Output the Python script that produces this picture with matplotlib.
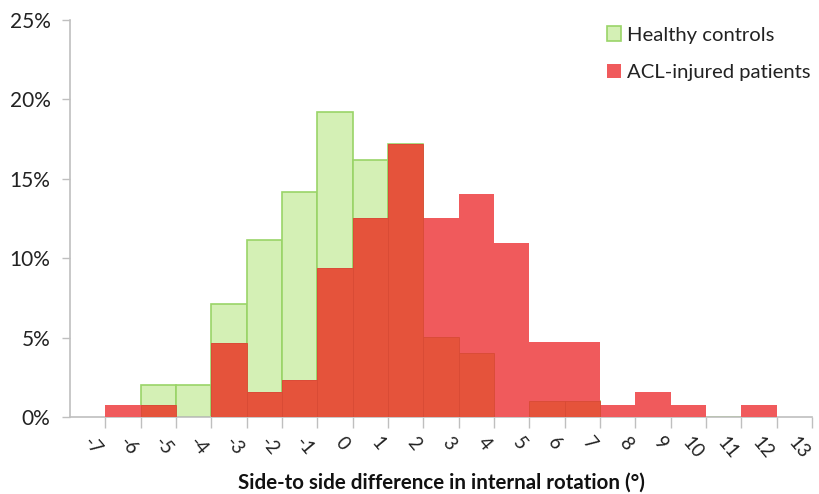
import matplotlib
matplotlib.use("Agg")
import matplotlib.pyplot as plt
from matplotlib.patches import Patch
from matplotlib.ticker import FuncFormatter
import numpy as np

plt.rcParams['font.family'] = ['Lato', 'DejaVu Sans']

bin_left = list(range(-7, 12))
healthy = [0, 2.03, 2.03, 7.10, 11.15, 14.18, 19.2, 16.17, 17.2, 5.05, 4.05, 0, 1.02, 1.02, 0, 0, 0, 0, 0]
acl = [0.78, 0.78, 0, 4.66, 1.56, 2.33, 9.35, 12.5, 17.2, 12.5, 14.06, 10.94, 4.69, 4.69, 0.78, 1.56, 0.78, 0, 0.78]
x_ticks = list(range(-7, 14))
y_ticks = [0, 5, 10, 15, 20, 25]
labels = ["Healthy controls", "ACL-injured patients"]
xlabel = "Side-to side difference in internal rotation (°)"

green_fill = "#D4F0B5"
green_edge = "#9AD468"
red_light = "#F05A5C"
red_dark = "#E5533B"

fig = plt.figure(figsize=(8.19, 4.94), dpi=100)
ax = fig.add_axes([0.0855, 0.156, 0.906, 0.8035])

left = np.array(bin_left)
h = np.array(healthy)
a = np.array(acl)
overlap = np.minimum(h, a)

ax.bar(left, h, width=1, align='edge', color=green_fill, edgecolor=green_edge, linewidth=1.2, zorder=2)
ax.bar(left, a, width=1, align='edge', color=red_light, edgecolor='none', linewidth=0, zorder=3)
ax.bar(left, overlap, width=1, align='edge', color=red_dark, edgecolor="#D84B35", linewidth=0.6, zorder=4)

ax.set_xlim(-8, 13)
ax.set_ylim(0, 25)
ax.set_xticks(x_ticks)
ax.set_xticklabels([str(v) for v in x_ticks], rotation=-50, ha='right', va='top', fontsize=13.5, color='#222222')
ax.set_yticks(y_ticks)
ax.yaxis.set_major_formatter(FuncFormatter(lambda v, p: f"{int(v)}%"))
for t in ax.get_yticklabels():
    t.set_fontsize(15)
    t.set_color('#222222')

for s in ['top', 'right']:
    ax.spines[s].set_visible(False)
for s in ['left', 'bottom']:
    ax.spines[s].set_color('#BFBFBF')
    ax.spines[s].set_linewidth(1.2)
ax.tick_params(axis='x', direction='out', length=8, width=1, color='#BFBFBF', pad=4)
ax.tick_params(axis='y', direction='out', length=6, width=1, color='#BFBFBF', pad=8)

ax.set_xlabel(xlabel, fontsize=14.8, fontweight='bold', labelpad=8, color='#111111')

handles = [Patch(facecolor=green_fill, edgecolor=green_edge, linewidth=1.2),
           Patch(facecolor=red_light, edgecolor='none')]
leg = ax.legend(handles, labels, loc='upper right', bbox_to_anchor=(1.023, 1.03), frameon=False,
                fontsize=14.6, handlelength=0.7, handleheight=0.7, handletextpad=0.3,
                labelspacing=1.0, labelcolor='#222222')

fig.savefig("out.png", dpi=100)
